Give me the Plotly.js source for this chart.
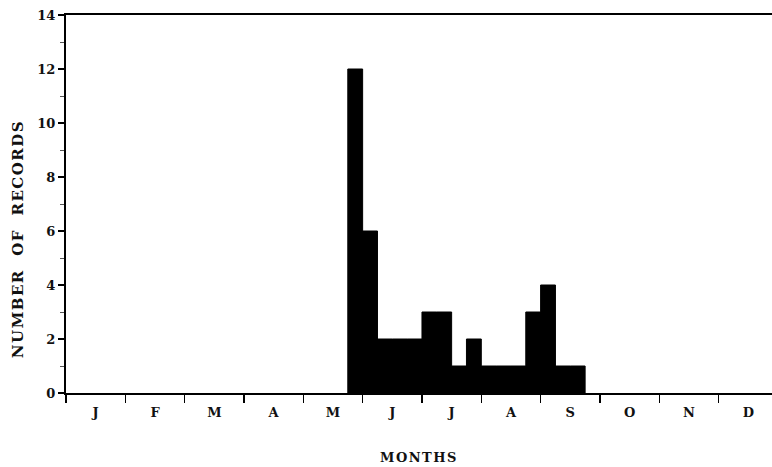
<!DOCTYPE html>
<html>
<head>
<meta charset="utf-8">
<script src="https://cdn.plot.ly/plotly-3.0.1.min.js"></script>
<style>
html,body{margin:0;padding:0;background:#fff;}
#chart{width:772px;height:467px;}
.annotation-text{letter-spacing:1.5px;}
</style>
</head>
<body>
<div id="chart"></div>
<script>
// Quarter-month bins (month index, 0 = start of January)
const binStarts = [4.75, 5.0, 5.25, 5.5, 5.75, 6.0, 6.25, 6.5, 6.75, 7.0, 7.25, 7.5, 7.75, 8.0, 8.25, 8.5];
const counts    = [12,   6,   2,    2,   2,    3,   3,    1,   2,    1,   1,    1,   3,    4,   1,    1];
const binWidth = 0.25;
const monthLabels = ['J','F','M','A','M','J','J','A','S','O','N','D'];
const monthCenters = monthLabels.map((_, i) => i + 0.5);
const xTitle = 'MONTHS';
const yTitle = 'NUMBER  OF  RECORDS';

const fam = '"DejaVu Serif", "Liberation Serif", serif';

// Histogram silhouette drawn as a filled step line through the bin edges
const stepX = [binStarts[0]].concat(binStarts, [binStarts[binStarts.length - 1] + binWidth]);
const stepY = [0].concat(counts, [counts[counts.length - 1]]);
stepX.push(stepX[stepX.length - 1]);
stepY.push(0);

const trace = {
  type: 'scatter',
  mode: 'lines',
  x: stepX,
  y: stepY,
  line: {shape: 'hv', color: '#000', width: 1},
  fill: 'toself',
  fillcolor: '#000',
  hoverinfo: 'skip'
};

const layout = {
  width: 772, height: 467,
  margin: {l: 66, r: 0, t: 15, b: 74},
  paper_bgcolor: '#fff', plot_bgcolor: '#fff',
  showlegend: false,
  font: {family: fam, size: 13, color: '#111'},
  xaxis: {
    range: [0, 11.9],
    tickmode: 'array',
    tickvals: monthCenters,
    ticktext: monthLabels.map(t => '<b>' + t + '</b>'),
    ticks: '',
    ticklabelstandoff: 6,
    showgrid: false, zeroline: false,
    showline: true, linecolor: '#000', linewidth: 2.2,
    mirror: true,
    tickfont: {family: fam, size: 13, color: '#111'},
    minor: {tick0: 0, dtick: 1, ticks: 'outside', ticklen: 8, tickwidth: 1.5, tickcolor: '#000', showgrid: false},
    fixedrange: true
  },
  yaxis: {
    range: [0, 14],
    tickmode: 'linear', tick0: 0, dtick: 2,
    ticks: 'outside', ticklen: 6, tickwidth: 1.5, tickcolor: '#000',
    tickprefix: '<b>', ticksuffix: '</b>',
    showgrid: false, zeroline: false,
    showline: true, linecolor: '#000', linewidth: 2,
    tickfont: {family: fam, size: 13, color: '#111'},
    minor: {tick0: 0, dtick: 1, ticks: 'outside', ticklen: 4, tickwidth: 1, tickcolor: '#555', showgrid: false},
    fixedrange: true
  },
  annotations: [
    {text: '<b>' + xTitle + '</b>', xref: 'paper', yref: 'paper', x: 0.5, y: -0.17,
     xanchor: 'center', yanchor: 'middle', showarrow: false,
     font: {family: fam, size: 13, color: '#111'}},
    {text: '<b>' + yTitle + '</b>', xref: 'paper', yref: 'paper', x: -0.068, y: 0.407,
     xanchor: 'center', yanchor: 'middle', textangle: -90, showarrow: false,
     font: {family: fam, size: 15, color: '#111'}}
  ]
};

Plotly.newPlot('chart', [trace], layout, {staticPlot: true, displayModeBar: false});
</script>
</body>
</html>
